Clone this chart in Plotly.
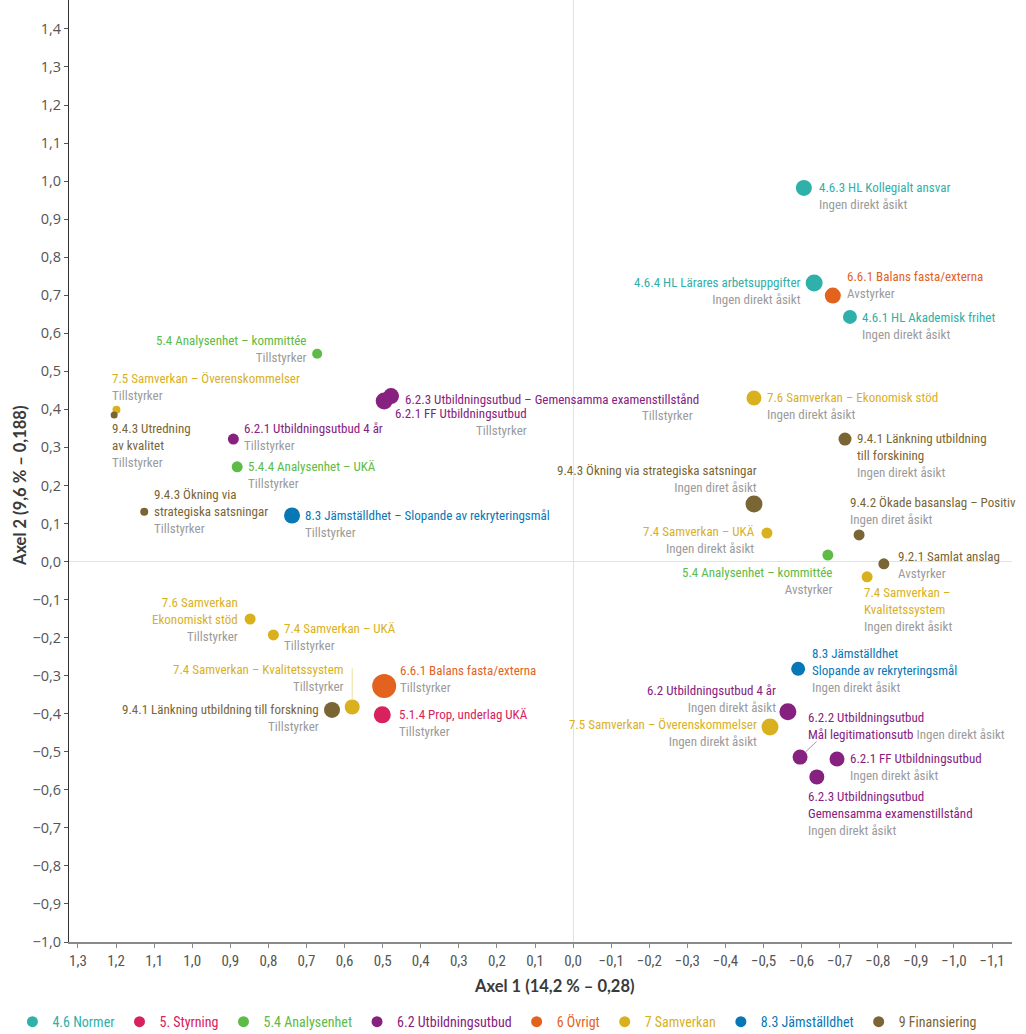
import plotly.graph_objects as go

# ---------------- data ----------------
groups = ["4.6 Normer", "5. Styrning", "5.4 Analysenhet", "6.2 Utbildningsutbud",
          "6 Övrigt", "7 Samverkan", "8.3 Jämställdhet", "9 Finansiering"]
group_colors = ["#2fb0aa", "#d9215e", "#5dbb46", "#87217f",
                "#e3621e", "#d9b11e", "#0777b6", "#7a6535"]

point_group = [0, 0, 4, 0, 2, 5, 7, 3, 3, 3, 2, 7, 6, 5, 7, 7, 7,
               5, 2, 7, 5, 6, 3, 5, 3, 3, 3, 5, 5, 4, 5, 7, 1]
point_name = [
    "4.6.3 HL Kollegialt ansvar",
    "4.6.4 HL Lärares arbetsuppgifter",
    "6.6.1 Balans fasta/externa",
    "4.6.1 HL Akademisk frihet",
    "5.4 Analysenhet – kommittée",
    "7.5 Samverkan – Överenskommelser",
    "9.4.3 Utredning|av kvalitet",
    "6.2.3 Utbildningsutbud – Gemensamma examenstillstånd",
    "6.2.1 FF Utbildningsutbud",
    "6.2.1 Utbildningsutbud 4 år",
    "5.4.4 Analysenhet – UKÄ",
    "9.4.3 Ökning via|strategiska satsningar",
    "8.3 Jämställdhet – Slopande av rekryteringsmål",
    "7.6 Samverkan – Ekonomisk stöd",
    "9.4.1 Länkning utbildning|till forskining",
    "9.4.3 Ökning via strategiska satsningar",
    "9.4.2 Ökade basanslag – Positiv",
    "7.4 Samverkan – UKÄ",
    "5.4 Analysenhet – kommittée",
    "9.2.1 Samlat anslag",
    "7.4 Samverkan –|Kvalitetssystem",
    "8.3 Jämställdhet|Slopande av rekryteringsmål",
    "6.2 Utbildningsutbud 4 år",
    "7.5 Samverkan – Överenskommelser",
    "6.2.2 Utbildningsutbud|Mål legitimationsutb",
    "6.2.1 FF Utbildningsutbud",
    "6.2.3 Utbildningsutbud|Gemensamma examenstillstånd",
    "7.6 Samverkan|Ekonomiskt stöd",
    "7.4 Samverkan – UKÄ",
    "6.6.1 Balans fasta/externa",
    "7.4 Samverkan – Kvalitetssystem",
    "9.4.1 Länkning utbildning till forskning",
    "5.1.4 Prop, underlag UKÄ",
]
point_opinion = [
    "Ingen direkt åsikt", "Ingen direkt åsikt", "Avstyrker", "Ingen direkt åsikt",
    "Tillstyrker", "Tillstyrker", "Tillstyrker", "Tillstyrker", "Tillstyrker",
    "Tillstyrker", "Tillstyrker", "Tillstyrker", "Tillstyrker",
    "Ingen direkt åsikt", "Ingen direkt åsikt", "Ingen diret åsikt", "Ingen diret åsikt",
    "Ingen direkt åsikt", "Avstyrker", "Avstyrker", "Ingen direkt åsikt",
    "Ingen direkt åsikt", "Ingen direkt åsikt", "Ingen direkt åsikt", "Ingen direkt åsikt",
    "Ingen direkt åsikt", "Ingen direkt åsikt", "Tillstyrker", "Tillstyrker",
    "Tillstyrker", "Tillstyrker", "Tillstyrker", "Tillstyrker",
]
axis1 = [-0.606, -0.633, -0.682, -0.727, 0.672, 1.199, 1.205, 0.478, 0.496, 0.892,
         0.882, 1.126, 0.738, -0.475, -0.714, -0.475, -0.751, -0.509, -0.669, -0.816,
         -0.772, -0.591, -0.564, -0.517, -0.596, -0.693, -0.640, 0.848, 0.787, 0.496,
         0.580, 0.633, 0.501]
axis2 = [0.982, 0.732, 0.699, 0.643, 0.546, 0.399, 0.385, 0.435, 0.422, 0.322,
         0.249, 0.131, 0.121, 0.430, 0.322, 0.151, 0.070, 0.075, 0.017, -0.006,
         -0.040, -0.282, -0.395, -0.435, -0.514, -0.519, -0.566, -0.151, -0.193, -0.327,
         -0.382, -0.390, -0.403]
point_weight = [16, 17, 16, 14, 10, 8, 7, 16, 17, 11, 11, 8, 16, 15, 13, 17, 11,
                11, 11, 11, 11, 14, 17, 17, 15, 15, 15, 11, 11, 24, 15, 16, 17]

x_ticks = [round(1.3 - 0.1 * i, 1) for i in range(25)]
y_ticks = [round(-1.0 + 0.1 * i, 1) for i in range(25)]
x_title = "Axel 1 (14,2 % – 0,28)"
y_title = "Axel 2 (9,6 % – 0,188)"

# ---------------- label layout (pixel offsets from the point) ----------------
# (xanchor, align, dx, dy of first line centre, opinion placement)
label_layout = [
    ("left", "left", 14, 0, "below"),
    ("right", "right", -12, 0, "below"),
    ("left", "left", 13, -19, "below"),
    ("left", "left", 11, 1, "below"),
    ("right", "right", -10, -13, "below"),
    ("left", "left", -5, -31, "below"),
    ("left", "left", -3, 14, "below"),
    ("left", "left", 13, 3, ("right", 303, 19)),
    ("left", "right", 10, 13, "below"),
    ("left", "left", 10, -10, "below"),
    ("left", "left", 10, 0, "below"),
    ("left", "left", 9, -16, "below"),
    ("left", "left", 12, 0, "below"),
    ("left", "left", 12, 0, "below"),
    ("left", "left", 11, 0, "below"),
    ("right", "right", 4, -33, "below"),
    ("left", "left", -10, -32, "below"),
    ("right", "right", -11, -1, "below"),
    ("right", "right", 5, 18, "below"),
    ("left", "left", 13, -7, "below"),
    ("left", "left", -4, 17, "below"),
    ("left", "left", 13, -15, "below"),
    ("right", "right", -11, -21, "below"),
    ("right", "right", -12, -2, "below"),
    ("left", "left", 7, -39, "inline"),
    ("left", "left", 12, 0, "below"),
    ("left", "left", -10, 20, "below"),
    ("right", "right", -11, -16, "below"),
    ("left", "left", 10, -6, "below"),
    ("left", "left", 15, -15, "below"),
    ("right", "right", -7, -37, "below"),
    ("right", "right", -12, 0, "below"),
    ("left", "left", 16, 0, "below"),
]
# connector lines: (point index, ax, ay, colour)
connectors = [(30, 0, -40, "#efdf9c"), (24, 18, -17, "#b98ab5")]

GRAY = "#9b9b9b"
LABEL_FONT = "Liberation Sans Narrow, Roboto Condensed, Arial Narrow, DejaVu Sans Condensed, sans-serif"
LABEL_SIZE = 13
LINE_H = 16.2

fig = go.Figure()

for gi, gname in enumerate(groups):
    idx = [i for i, g in enumerate(point_group) if g == gi]
    fig.add_trace(go.Scatter(
        x=[axis1[i] for i in idx], y=[axis2[i] for i in idx],
        mode="markers",
        marker=dict(size=[point_weight[i] for i in idx], color=group_colors[gi],
                    line=dict(width=0), opacity=1),
        hovertext=[point_name[i].replace("|", " ") + " – " + point_opinion[i] for i in idx],
        hoverinfo="text", showlegend=False))

for gi, gname in enumerate(groups):
    fig.add_trace(go.Scatter(
        x=[None], y=[None], mode="markers",
        marker=dict(size=11, color=group_colors[gi]),
        name=f'<span style="color:{group_colors[gi]}">{gname}</span>',
        showlegend=True))

for i in range(len(axis1)):
    xa, al, dx, dy, op = label_layout[i]
    col = group_colors[point_group[i]]
    lines = [f'<span style="color:{col}">{t}</span>' for t in point_name[i].split("|")]
    if op == "below":
        lines.append(f'<span style="color:{GRAY}">{point_opinion[i]}</span>')
    elif op == "inline":
        lines[-1] += f' <span style="color:{GRAY}">{point_opinion[i]}</span>'
    else:
        xa2, dx2, dy2 = op
        fig.add_annotation(x=axis1[i], y=axis2[i], xref="x", yref="y",
                           text=f'<span style="color:{GRAY}">{point_opinion[i]}</span>',
                           showarrow=False, xanchor=xa2, yanchor="middle",
                           xshift=dx2, yshift=-dy2, borderpad=0,
                           font=dict(family=LABEL_FONT, size=LABEL_SIZE))
    n = len(lines)
    centre = dy + (n - 1) * LINE_H / 2
    fig.add_annotation(x=axis1[i], y=axis2[i], xref="x", yref="y",
                       text="<br>".join(lines), showarrow=False,
                       xanchor=xa, align=al, yanchor="middle",
                       xshift=dx, yshift=-centre, borderpad=0,
                       font=dict(family=LABEL_FONT, size=LABEL_SIZE))

for pi, ax, ay, c in connectors:
    fig.add_annotation(x=axis1[pi], y=axis2[pi], xref="x", yref="y", text="",
                       showarrow=True, arrowhead=0, arrowwidth=1, arrowcolor=c,
                       ax=ax, ay=ay, standoff=point_weight[pi] / 2)

# axis titles
fig.add_annotation(x=0.515, y=0, xref="paper", yref="paper", yshift=-44,
                   text=f"<b>{x_title}</b>", showarrow=False,
                   xanchor="center", yanchor="middle",
                   font=dict(family="Lato, sans-serif", size=16.5, color="#3a3a3a"))
fig.add_annotation(x=0, y=0.484, xref="paper", yref="paper", xshift=-49,
                   text=f"<b>{y_title}</b>", showarrow=False, textangle=-90,
                   xanchor="center", yanchor="middle",
                   font=dict(family="Lato, sans-serif", size=16.5, color="#3a3a3a"))

fig.update_layout(
    width=1026, height=1034,
    margin=dict(l=69, r=14, t=0, b=92, autoexpand=False),
    plot_bgcolor="white", paper_bgcolor="white",
    separators=",.",
    font=dict(family=LABEL_FONT, color="#444"),
    showlegend=True,
    legend=dict(orientation="h", xref="paper", yref="paper",
                x=-0.06, y=-0.085, xanchor="left", yanchor="middle",
                font=dict(family=LABEL_FONT, size=14),
                itemwidth=30, tracegroupgap=0),
    hovermode="closest",
)
fig.update_xaxes(
    range=[1.3236, -1.1525], tickvals=x_ticks, tickformat=".1f",
    showgrid=False, zeroline=True, zerolinecolor="#e2e2e2", zerolinewidth=1,
    showline=True, linecolor="#8a8a8a", linewidth=2,
    ticks="outside", ticklen=4, tickcolor="#8a8a8a", tickwidth=1,
    tickfont=dict(family=LABEL_FONT, size=15, color="#555"),
)
fig.update_yaxes(
    range=[-1.0, 1.476], tickvals=y_ticks, tickformat=".1f",
    showgrid=False, zeroline=True, zerolinecolor="#e2e2e2", zerolinewidth=1,
    showline=True, linecolor="#333", linewidth=1,
    ticks="outside", ticklen=4, tickcolor="#555", tickwidth=1,
    tickfont=dict(family="Open Sans, sans-serif", size=14.5, color="#555"),
)

fig.write_html("out.html", config={"displayModeBar": False},
               post_script="document.body.style.margin='0';")
